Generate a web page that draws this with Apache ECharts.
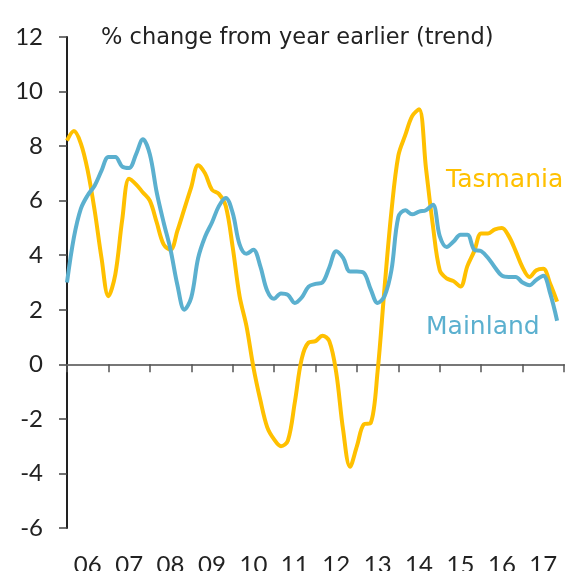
<!DOCTYPE html>
<html>
<head>
<meta charset="utf-8">
<script src="https://cdn.jsdelivr.net/npm/echarts@6/dist/echarts.min.js"></script>
<style>
  html, body { margin: 0; padding: 0; background: #fff; }
  #chart { width: 575px; height: 571px; }
</style>
</head>
<body>
<div id="chart"></div>
<script>
// 年份标签（每年一格，刻度在年与年之间）
const years = ['06', '07', '08', '09', '10', '11', '12', '13', '14', '15', '16', '17']
const yTicks = [-6, -4, -2, 0, 2, 4, 6, 8, 10, 12]

// 两个月一个点，从 2006 年初开始
const tasmania = [
  8.2, 8.55, 8.1, 7.1, 5.65, 3.9, 2.5, 3.3, 5.3, 6.8, 6.6, 6.3,
  6.0, 5.2, 4.4, 4.2, 4.9, 5.7, 6.5, 7.3, 7.0, 6.4, 6.25, 5.8,
  4.3, 2.5, 1.4, -0.1, -1.3, -2.3, -2.75, -3.0, -2.8, -1.4, 0.2, 0.8,
  0.85, 1.05, 0.85, -0.3, -2.4, -3.75, -3.0, -2.2, -2.15, -0.25, 2.8, 5.6,
  7.65, 8.4, 9.1, 9.35, 7.2, 5.1, 3.45, 3.15, 3.05, 2.85, 3.6, 4.15,
  4.8, 4.8, 4.95, 5.0, 4.7, 4.15, 3.55, 3.2, 3.45, 3.5, 2.95, 2.3,
]
const mainland = [
  3.0, 4.65, 5.7, 6.2, 6.55, 7.1, 7.6, 7.6, 7.25, 7.2, 7.7, 8.25,
  7.7, 6.3, 5.2, 4.2, 2.9, 2.0, 2.45, 3.9, 4.68, 5.2, 5.8, 6.1,
  5.55, 4.4, 4.05, 4.2, 3.6, 2.7, 2.4, 2.6, 2.55, 2.25, 2.45, 2.85,
  2.95, 3.0, 3.55, 4.15, 3.9, 3.4, 3.4, 3.35, 2.75, 2.25, 2.5, 3.45,
  5.4, 5.65, 5.5, 5.6, 5.65, 5.85, 4.7, 4.3, 4.5, 4.75, 4.75, 4.2,
  4.15, 3.9, 3.55, 3.25, 3.2, 3.2, 3.0, 2.9, 3.1, 3.25, 2.6, 1.6,
]

const FONT = 'Lato'
const WIDE = '"DejaVu Sans"'
const toPairs = arr => arr.map((v, i) => [i / 6, v])

const chart = echarts.init(document.getElementById('chart'))
chart.setOption({
  animation: false,
  textStyle: { fontFamily: FONT },
  title: {
    text: '% change from year earlier (trend)',
    left: 96,
    top: 22,
    textStyle: { fontFamily: WIDE, fontSize: 22.5, fontWeight: 'normal', color: '#222' },
  },
  grid: { left: 67, right: 11, top: 37, bottom: 43, outerBoundsMode: 'none' },
  xAxis: [
    // 底部年份标签
    {
      type: 'category',
      data: years,
      boundaryGap: true,
      position: 'bottom',
      axisLine: { show: false, onZero: false },
      axisTick: { show: false },
      axisLabel: { fontSize: 24, color: '#222', margin: 25 },
      splitLine: { show: false },
    },
    // 零线上的时间轴
    {
      type: 'value',
      min: 0,
      max: 12,
      interval: 1,
      position: 'bottom',
      axisLine: { onZero: true, lineStyle: { color: '#777', width: 2 } },
      axisTick: { show: true, length: 8, lineStyle: { color: '#555', width: 1.5 } },
      axisLabel: { show: false },
      splitLine: { show: false },
    },
  ],
  yAxis: {
    type: 'value',
    min: yTicks[0],
    max: yTicks[yTicks.length - 1],
    interval: 2,
    axisLine: { show: true, onZero: false, lineStyle: { color: '#222', width: 2 } },
    axisTick: { show: true, length: 8, lineStyle: { color: '#444', width: 1.5 } },
    axisLabel: { fontSize: 24, color: '#222', margin: 24 },
    splitLine: { show: false },
  },
  series: [
    {
      name: 'Tasmania',
      type: 'line',
      xAxisIndex: 1,
      data: toPairs(tasmania),
      showSymbol: false,
      smooth: 0.35,
      lineStyle: { color: '#FFC000', width: 4 },
      z: 2,
    },
    {
      name: 'Mainland',
      type: 'line',
      xAxisIndex: 1,
      data: toPairs(mainland),
      showSymbol: false,
      smooth: 0.35,
      lineStyle: { color: '#5BB0CF', width: 4 },
      z: 3,
    },
  ],
  graphic: [
    {
      type: 'text',
      left: 446,
      top: 168,
      style: { text: 'Tasmania', fill: '#FFC000', font: `25px ${WIDE}` },
    },
    {
      type: 'text',
      left: 426,
      top: 315,
      style: { text: 'Mainland', fill: '#5BB0CF', font: `25px ${WIDE}` },
    },
  ],
})
</script>
</body>
</html>
